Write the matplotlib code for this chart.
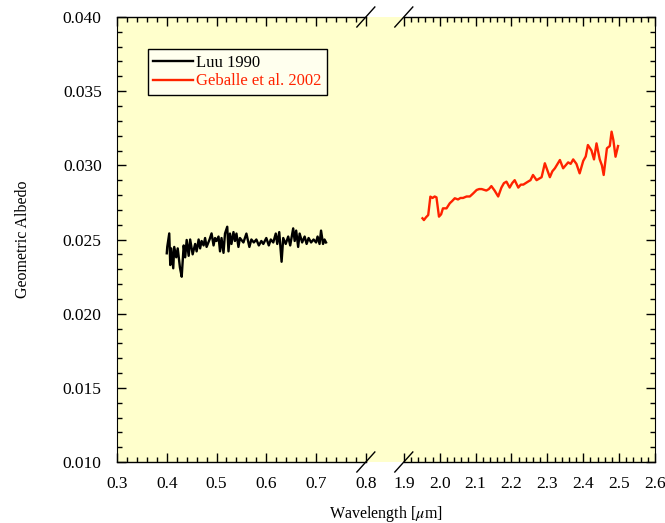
import numpy as np
import matplotlib
matplotlib.use("Agg")
import matplotlib.pyplot as plt
from matplotlib.ticker import FixedLocator, FixedFormatter, MultipleLocator

plt.rcParams['font.family'] = 'Liberation Serif'
plt.rcParams['mathtext.fontset'] = 'stix'

# ---------------- donnees ----------------
# Luu 1990 (visible)
luu_x = [0.400, 0.401, 0.405, 0.407, 0.409, 0.413, 0.415, 0.419, 0.422, 0.4265,
         0.430, 0.434, 0.437, 0.440, 0.444, 0.447, 0.452, 0.457, 0.460, 0.464,
         0.467, 0.470, 0.474, 0.477, 0.480, 0.486, 0.490, 0.494, 0.497, 0.500,
         0.504, 0.507, 0.510, 0.514, 0.517, 0.5215, 0.524, 0.527, 0.530, 0.534,
         0.537, 0.540, 0.544, 0.547, 0.554, 0.560, 0.566, 0.570, 0.575, 0.580,
         0.585, 0.590, 0.594, 0.600, 0.605, 0.609, 0.614, 0.619, 0.622, 0.626,
         0.6307, 0.634, 0.639, 0.644, 0.648, 0.654, 0.657, 0.660, 0.664, 0.667,
         0.672, 0.677, 0.681, 0.685, 0.690, 0.695, 0.700, 0.703, 0.707, 0.710,
         0.714, 0.717, 0.720]
luu_y = [0.02407, 0.02451, 0.02541, 0.02328, 0.0244, 0.02306, 0.0245, 0.0238, 0.0244, 0.0231,
         0.02249, 0.0246, 0.0238, 0.02497, 0.0239, 0.0250, 0.0240, 0.0247, 0.0242, 0.0250,
         0.0244, 0.0249, 0.0246, 0.0251, 0.0245, 0.0250, 0.02541, 0.0246, 0.0251, 0.0249,
         0.0252, 0.0242, 0.0251, 0.0241, 0.0254, 0.02586, 0.0242, 0.0254, 0.0247, 0.0255,
         0.0249, 0.0254, 0.0245, 0.0251, 0.0248, 0.0254, 0.0245, 0.0250, 0.0248, 0.0250,
         0.0246, 0.0249, 0.0247, 0.0251, 0.0246, 0.0250, 0.0248, 0.0254, 0.0247, 0.0255,
         0.0235, 0.0251, 0.0247, 0.0252, 0.0246, 0.02575, 0.0249, 0.0256, 0.0245, 0.0254,
         0.0248, 0.0252, 0.0247, 0.0251, 0.0248, 0.0250, 0.0248, 0.0252, 0.0247, 0.0256,
         0.0247, 0.0250, 0.0248]

# Geballe et al. 2002 (proche IR)
geb_x = [1.952, 1.956, 1.962, 1.968, 1.974, 1.980, 1.986, 1.991, 1.998, 2.004,
         2.009, 2.019, 2.028, 2.035, 2.042, 2.051, 2.058, 2.065, 2.075, 2.084,
         2.093, 2.103, 2.110, 2.117, 2.130, 2.137, 2.144, 2.153, 2.163, 2.172,
         2.179, 2.186, 2.195, 2.202, 2.209, 2.219, 2.226, 2.233, 2.246, 2.253,
         2.260, 2.270, 2.284, 2.293, 2.307, 2.314, 2.321, 2.335, 2.344, 2.358,
         2.365, 2.372, 2.381, 2.390, 2.400, 2.407, 2.413, 2.423, 2.430, 2.437,
         2.446, 2.452, 2.457, 2.466, 2.474, 2.479, 2.484, 2.490, 2.497]
geb_y = [0.02643, 0.02631, 0.0265, 0.02665, 0.02789, 0.0278, 0.0279, 0.02784, 0.02654, 0.0267,
         0.0271, 0.0271, 0.02744, 0.0276, 0.02778, 0.0277, 0.0278, 0.0278, 0.0279, 0.0279,
         0.0281, 0.02834, 0.0284, 0.0284, 0.0283, 0.0284, 0.0286, 0.0283, 0.0279, 0.0285,
         0.0288, 0.0289, 0.0285, 0.0288, 0.0290, 0.0285, 0.0287, 0.0287, 0.0289, 0.0290,
         0.02935, 0.0290, 0.0292, 0.03014, 0.0292, 0.0296, 0.0298, 0.03036, 0.0298, 0.0302,
         0.0301, 0.0304, 0.0301, 0.02946, 0.0303, 0.0306, 0.03137, 0.0310, 0.0304, 0.03148,
         0.0304, 0.0300, 0.02935, 0.03115, 0.0313, 0.03227, 0.0317, 0.03058, 0.0313]

x_major = [0.3, 0.4, 0.5, 0.6, 0.7, 0.8, 1.9, 2.0, 2.1, 2.2, 2.3, 2.4, 2.5, 2.6]
x_labels = ["0.3", "0.4", "0.5", "0.6", "0.7", "0.8", "1.9", "2.0",
            "2.1", "2.2", "2.3", "2.4", "2.5", "2.6"]

# ---------------- axe coupe ----------------
GAP = 0.0763
K = 0.721


def fwd(x):
    x = np.asarray(x, dtype=float)
    return np.where(x <= 0.8, x,
                    np.where(x >= 1.9, 0.8 + GAP + (x - 1.9) * K,
                             0.8 + (x - 0.8) / 1.1 * GAP))


def inv(u):
    u = np.asarray(u, dtype=float)
    return np.where(u <= 0.8, u,
                    np.where(u >= 0.8 + GAP, 1.9 + (u - 0.8 - GAP) / K,
                             0.8 + (u - 0.8) / GAP * 1.1))


fig = plt.figure(figsize=(6.65, 5.23), dpi=100)
ax = fig.add_axes([117 / 665, 1 - 462 / 523, 538 / 665, 445 / 523])
ax.set_facecolor('#FFFFCC')

ax.set_xscale('function', functions=(fwd, inv))
ax.set_xlim(0.3, 2.6)
ax.set_ylim(0.010, 0.040)

ax.plot(luu_x, luu_y, color='black', lw=1.7, label='Luu 1990')
ax.plot(geb_x, geb_y, color='#FF2200', lw=1.7, label='Geballe et al. 2002')

# ticks
x_minor = [v for v in np.arange(0.3, 0.801, 0.02)] + [v for v in np.arange(1.9, 2.601, 0.02)]
ax.xaxis.set_major_locator(FixedLocator(x_major))
ax.xaxis.set_major_formatter(FixedFormatter(x_labels))
ax.xaxis.set_minor_locator(FixedLocator(x_minor))
ax.yaxis.set_major_locator(MultipleLocator(0.005))
ax.yaxis.set_minor_locator(MultipleLocator(0.001))
ax.yaxis.set_major_formatter(plt.FormatStrFormatter('%.3f'))

ax.tick_params(which='both', direction='in', top=True, right=True, width=1)
ax.tick_params(which='major', length=6.5, labelsize=12.5)
ax.tick_params(which='minor', length=3.5)
ax.tick_params(axis='y', pad=11)
ax.tick_params(axis='x', pad=10)

ax.set_xlabel('Wavelength [$\\mu$m]', fontsize=11.5, labelpad=9)
ax.set_ylabel('Geometric Albedo', fontsize=11.5, labelpad=23)

# spines coupes + marques
ax.spines['top'].set_visible(False)
ax.spines['bottom'].set_visible(False)
fig.canvas.draw()
f1 = ax.transAxes.inverted().transform(ax.transData.transform((0.8, 0.02)))[0]
f2 = ax.transAxes.inverted().transform(ax.transData.transform((1.9, 0.02)))[0]
for yy in (0, 1):
    ax.plot([0, f1], [yy, yy], color='black', lw=1, transform=ax.transAxes, clip_on=False)
    ax.plot([f2, 1], [yy, yy], color='black', lw=1, transform=ax.transAxes, clip_on=False)
    for f in (f1, f2):
        ax.plot([f - 0.0167, f + 0.0167], [yy - 0.0225, yy + 0.0225], color='black',
                lw=1, transform=ax.transAxes, clip_on=False)

leg = ax.legend(loc='upper left', bbox_to_anchor=(0.057, 0.928), fontsize=12,
                frameon=True, fancybox=False, handlelength=2.4, handletextpad=0.15,
                borderpad=0.35, labelspacing=0.15, borderaxespad=0)
leg.get_frame().set_edgecolor('black')
leg.get_frame().set_linewidth(1)
leg.get_frame().set_facecolor('#FFFFEE')
leg.get_frame().set_alpha(1)
for txt, line in zip(leg.get_texts(), leg.get_lines()):
    txt.set_color(line.get_color())

fig.savefig('out.png', dpi=100)
